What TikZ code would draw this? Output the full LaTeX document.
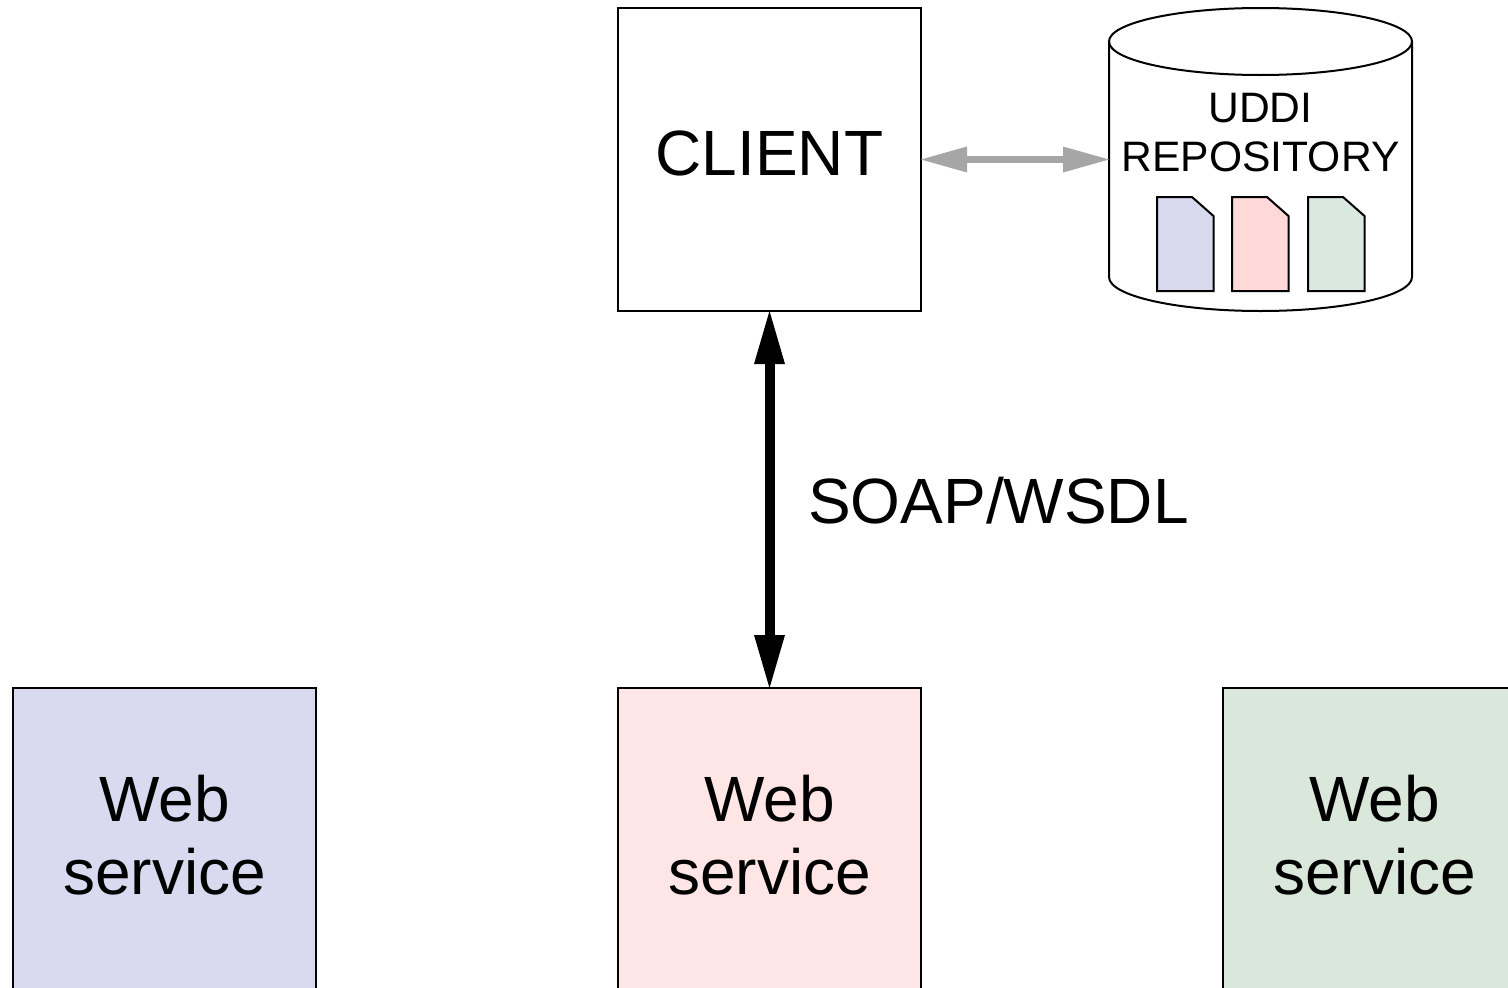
\documentclass[tikz,border=0pt]{standalone}
\usepackage{fontspec}
\setmainfont{Liberation Sans}
\usetikzlibrary{arrows.meta}
\definecolor{wsblue}{HTML}{D9D9F0}
\definecolor{wspink}{HTML}{FFE6E6}
\definecolor{wsgreen}{HTML}{D9E8DA}
\definecolor{docblue}{HTML}{D9D9EE}
\definecolor{docpink}{HTML}{FFD8D8}
\definecolor{docgreen}{HTML}{D9E8E0}
\definecolor{linkgray}{HTML}{A6A6A6}
\tikzset{
  x=1pt,y=-1pt,
  boxnode/.style={draw=black,line width=2pt,outer sep=0pt,minimum width=303pt,minimum height=303pt,inner sep=0pt,align=center,font=\fontsize{64}{73}\selectfont},
  outline/.style={draw=black,line width=2pt,line join=round},
  docshape/.style={draw=black,line width=2pt,line join=miter},
  repotext/.style={inner sep=0pt,align=center,font=\fontsize{42.6}{49}\selectfont},
  biglabel/.style={inner sep=0pt,font=\fontsize{64}{73}\selectfont},
  mainlink/.style={line width=10pt,black,{Triangle[length=53pt,width=31pt,line width=0pt]}-{Triangle[length=53pt,width=31pt,line width=0pt]}},
  repolink/.style={line width=7pt,linkgray,{Triangle[length=46pt,width=26pt,line width=0pt]}-{Triangle[length=46pt,width=26pt,line width=0pt]}}
}
\newcommand{\docicon}[2]{%
  \path[docshape,fill=#2] (#1,197) -- (#1+35,197) -- (#1+56.5,216) -- (#1+56.5,291) -- (#1,291) -- cycle;}
\begin{document}
\begin{tikzpicture}
\useasboundingbox (0,0) rectangle (1508,988);
\clip (0,0) rectangle (1508,988);
\fill[white] (0,0) rectangle (1508,988);
% nodes
\node[boxnode,text depth=13pt] (client) at (769.5,159.5) {CLIENT};
\node[boxnode,fill=wsblue,text depth=8.5pt]  (ws1) at (164.5,839.5) {Web\\service};
\node[boxnode,fill=wspink,text depth=8.5pt]  (ws2) at (769.5,839.5) {Web\\service};
\node[boxnode,fill=wsgreen,text depth=8.5pt] (ws3) at (1374.5,839.5) {Web\\service};
% repository cylinder
\node[minimum width=303pt,minimum height=303pt,inner sep=0pt,outer sep=0pt] (repo) at (1260.5,159.5) {};
\path[outline] (1109,41.5) -- (1109,277) .. controls (1109,296) and (1177,311) .. (1260.5,311)
   .. controls (1344,311) and (1412,296) .. (1412,277) -- (1412,41.5);
\path[outline] (1260.5,41.5) ellipse [x radius=151.5pt,y radius=33.5pt];
\node[repotext] (repolabel) at (1260.5,133) {UDDI\\REPOSITORY};
\docicon{1157}{docblue}
\docicon{1232}{docpink}
\docicon{1308}{docgreen}
% connectors
\draw[mainlink] (client.south) -- (ws2.north);
\draw[repolink] (client.east) -- (repo.west);
\node[biglabel,anchor=base west] (soap) at (808,523) {SOAP/WSDL};
\end{tikzpicture}
\end{document}
